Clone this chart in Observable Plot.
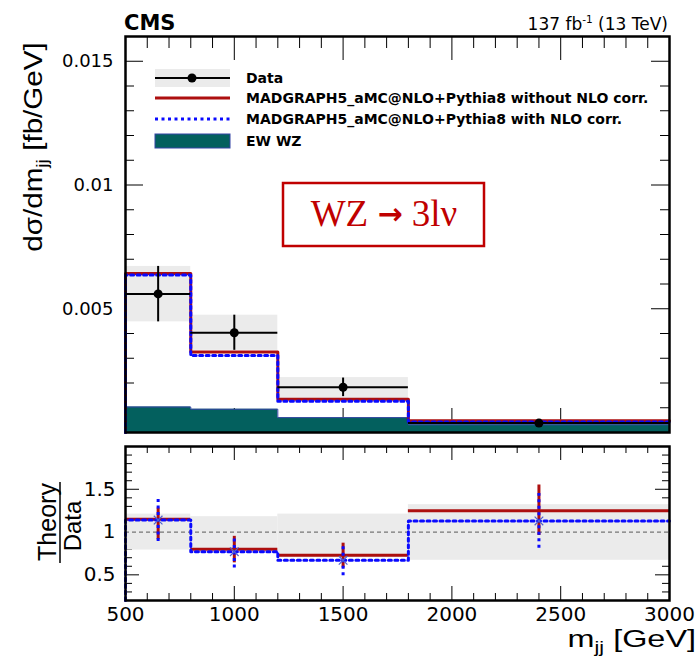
<!DOCTYPE html>
<html><head><meta charset="utf-8">
<script src="https://cdn.jsdelivr.net/npm/d3@7"></script>
<script src="https://cdn.jsdelivr.net/npm/@observablehq/plot@0.6"></script>
<style>
body{margin:0;background:#fff;}
#chart{position:relative;width:698px;height:663px;background:#fff;}
#chart svg{display:block;overflow:visible;}
</style></head><body><div id="chart"></div>
<script>
// ---------- data ----------
const binEdges = [500, 800, 1200, 1800, 3000];
const binCenters = [650, 1000, 1500, 2400];
const dataVal = [5.60e-3, 4.03e-3, 1.83e-3, 0.38e-3];
const dataLo  = [4.47e-3, 3.32e-3, 1.45e-3, 0.34e-3];
const dataHi  = [6.71e-3, 4.74e-3, 2.20e-3, 0.42e-3];
const bandLo  = [4.47e-3, 3.32e-3, 1.37e-3, 0.25e-3];
const bandHi  = [6.71e-3, 4.74e-3, 2.22e-3, 0.50e-3];
const noNLO   = [6.42e-3, 3.25e-3, 1.34e-3, 0.47e-3];
const withNLO = [6.36e-3, 3.11e-3, 1.26e-3, 0.42e-3];
const ewWZ    = [1.03e-3, 0.94e-3, 0.60e-3, 0.31e-3];

const ratioNoNLO     = [1.15, 0.80, 0.73, 1.25];
const ratioNoNLOLo   = [0.91, 0.64, 0.58, 0.96];
const ratioNoNLOHi   = [1.28, 0.95, 0.87, 1.55];
const ratioWithNLO   = [1.14, 0.77, 0.67, 1.13];
const ratioWithNLOLo = [0.89, 0.58, 0.49, 0.81];
const ratioWithNLOHi = [1.38, 0.95, 0.87, 1.45];
const ratioBandLo    = [0.79, 0.80, 0.70, 0.67];
const ratioBandHi    = [1.21, 1.18, 1.21, 1.32];

const xMajorTicks = [500, 1000, 1500, 2000, 2500, 3000];
const xTickLabels = ["500", "1000", "1500", "2000", "2500", "3000"];
const xMinorTicks = d3.range(600, 3000, 100).filter(v => v % 500 !== 0);
const yMajorTicks = [0.005, 0.01, 0.015];
const yTickLabels = ["0.005", "0.01", "0.015"];
const yMinorTicks = d3.range(1, 16).map(i => i / 1000).filter(v => !yMajorTicks.some(m => Math.abs(m - v) < 1e-9));
const rMajorTicks = [0.5, 1, 1.5];
const rTickLabels = ["0.5", "1", "1.5"];
const rMinorTicks = d3.range(3, 20).map(i => i / 10).filter(v => !rMajorTicks.some(m => Math.abs(m - v) < 1e-9));
const yDomain = [0, 0.016];
const rDomain = [0.2, 2.0];

// ---------- styles ----------
const RED = "#ad0f0f", BLUE = "#0a0aff", TEAL = "#03605e", BAND = "#ebebeb";
const DASH = "3,3.5";
const FONT = "DejaVu Sans, sans-serif";
const W = 698, ML = 125, MR = 29;
const PW = W - ML - MR;

const bins = binCenters.map((c, i) => ({
  x1: binEdges[i], x2: binEdges[i + 1], c,
  val: dataVal[i], lo: dataLo[i], hi: dataHi[i], bLo: bandLo[i], bHi: bandHi[i],
  rN: ratioNoNLO[i], rNLo: ratioNoNLOLo[i], rNHi: ratioNoNLOHi[i],
  rW: ratioWithNLO[i], rWLo: ratioWithNLOLo[i], rWHi: ratioWithNLOHi[i],
  rbLo: ratioBandLo[i], rbHi: ratioBandHi[i]
}));
const stepPts = (vals, base) => [{x: binEdges[0], y: base},
  ...vals.map((v, i) => ({x: binEdges[i], y: v})), {x: binEdges[binEdges.length - 1], y: vals[vals.length - 1]}];

function tickMarks(xMaj, xMin, yMaj, yMin, H, xl, xs, yl, ys) {
  const st = {stroke: "#000", strokeWidth: 1};
  return [
    Plot.tickX(xMaj, {x: d => d, insetTop: H - xl, ...st}),
    Plot.tickX(xMaj, {x: d => d, insetBottom: H - xl, ...st}),
    Plot.tickX(xMin, {x: d => d, insetTop: H - xs, ...st}),
    Plot.tickX(xMin, {x: d => d, insetBottom: H - xs, ...st}),
    Plot.tickY(yMaj, {y: d => d, insetRight: PW - yl, ...st}),
    Plot.tickY(yMaj, {y: d => d, insetLeft: PW - yl, ...st}),
    Plot.tickY(yMin, {y: d => d, insetRight: PW - ys, ...st}),
    Plot.tickY(yMin, {y: d => d, insetLeft: PW - ys, ...st})
  ];
}

// ---------- upper panel ----------
const H1 = 440, MT1 = 36, MB1 = 8;
const topPlot = Plot.plot({
  width: W, height: H1, marginTop: MT1, marginBottom: MB1, marginLeft: ML, marginRight: MR,
  x: {domain: [500, 3000], axis: null},
  y: {domain: yDomain, axis: null},
  style: {fontFamily: FONT, background: "white", overflow: "visible"},
  marks: [
    ...tickMarks(xMajorTicks, xMinorTicks, yMajorTicks, yMinorTicks, H1 - MT1 - MB1, 24, 12, 18, 9),
    Plot.rect(bins, {x1: "x1", x2: "x2", y1: "bLo", y2: "bHi", fill: BAND}),
    Plot.areaY(stepPts(ewWZ, 0), {x: "x", y: "y", curve: "step-after", fill: TEAL}),
    Plot.line(stepPts(ewWZ, 0), {x: "x", y: "y", curve: "step-after", stroke: "#3545a5", strokeWidth: 1}),
    Plot.line(stepPts(noNLO, 0), {x: "x", y: "y", curve: "step-after", stroke: RED, strokeWidth: 3}),
    Plot.line(stepPts(withNLO, 0), {x: "x", y: "y", curve: "step-after", stroke: BLUE, strokeWidth: 3, strokeDasharray: DASH}),
    Plot.ruleY(bins, {y: "val", x1: "x1", x2: "x2", stroke: "#000", strokeWidth: 2}),
    Plot.ruleX(bins, {x: "c", y1: "lo", y2: "hi", stroke: "#000", strokeWidth: 2}),
    Plot.dot(bins, {x: "c", y: "val", r: 4.5, fill: "#000", stroke: "none"}),
    Plot.frame({stroke: "#000", strokeWidth: 2.5}),
    Plot.text(yMajorTicks, {y: d => d, text: (d, i) => yTickLabels[i], frameAnchor: "left", textAnchor: "end", dx: -12, fontSize: 18, fill: "#000"})
  ]
});

// ---------- lower panel ----------
const H2 = 223, MT2 = 6, MB2 = 63;
const bottomPlot = Plot.plot({
  width: W, height: H2, marginTop: MT2, marginBottom: MB2, marginLeft: ML, marginRight: MR,
  x: {domain: [500, 3000], axis: null},
  y: {domain: rDomain, axis: null},
  style: {fontFamily: FONT, background: "white", overflow: "visible"},
  marks: [
    ...tickMarks(xMajorTicks, xMinorTicks, rMajorTicks, rMinorTicks, H2 - MT2 - MB2, 14, 7, 14, 7),
    Plot.rect(bins, {x1: "x1", x2: "x2", y1: "rbLo", y2: "rbHi", fill: BAND}),
    Plot.ruleY([1], {stroke: "#777", strokeWidth: 1.3, strokeDasharray: "4,3"}),
    Plot.ruleY(bins, {y: "rN", x1: "x1", x2: "x2", stroke: RED, strokeWidth: 3}),
    Plot.ruleX(bins, {x: "c", y1: "rNLo", y2: "rNHi", stroke: RED, strokeWidth: 3}),
    Plot.line(stepPts(ratioWithNLO, rDomain[0]), {x: "x", y: "y", curve: "step-after", stroke: BLUE, strokeWidth: 3, strokeDasharray: DASH}),
    Plot.ruleX(bins, {x: "c", y1: "rWLo", y2: "rWHi", stroke: BLUE, strokeWidth: 3, strokeDasharray: DASH}),
    Plot.dot(bins, {x: "c", y: "rW", r: 4, symbol: "times", stroke: "#5060d0", strokeWidth: 1.2}),
    Plot.frame({stroke: "#000", strokeWidth: 2.5}),
    Plot.text(rMajorTicks, {y: d => d, text: (d, i) => rTickLabels[i], frameAnchor: "left", textAnchor: "end", dx: -10, fontSize: 20, fill: "#000"}),
    Plot.text(xMajorTicks, {x: d => d, text: (d, i) => xTickLabels[i], frameAnchor: "bottom", lineAnchor: "top", dy: 6, fontSize: 20, fill: "#000"})
  ]
});

const chart = document.getElementById("chart");
chart.appendChild(topPlot);
chart.appendChild(bottomPlot);

// ---------- annotations (upper) ----------
const s1 = d3.select(topPlot);
const g1 = s1.append("g").attr("font-family", FONT).attr("fill", "#000").attr("text-anchor", "start");
g1.append("text").attr("x", 124).attr("y", 30).attr("text-anchor", "start").attr("font-size", 21).attr("font-weight", "bold").text("CMS");
const lumi = g1.append("text").attr("x", 668).attr("y", 30).attr("font-size", 17).attr("text-anchor", "end");
lumi.append("tspan").text("137 fb");
lumi.append("tspan").attr("dy", -7).attr("font-size", 10.5).text("-1");
lumi.append("tspan").attr("dy", 7).text(" (13 TeV)");

const yt = g1.append("text").attr("transform", "translate(42,147) rotate(-90) scale(1.14,1)").attr("text-anchor", "middle")
  .attr("font-family", "Liberation Sans, Arial, sans-serif").attr("font-size", 26);
yt.append("tspan").text("dσ/dm");
yt.append("tspan").attr("dy", 6).attr("font-size", 17).text("jj");
yt.append("tspan").attr("dy", -6).text(" [fb/GeV]");

// legend
const lg = g1.append("g");
lg.append("rect").attr("x", 155).attr("y", 69).attr("width", 75).attr("height", 18).attr("fill", BAND);
lg.append("line").attr("x1", 155).attr("x2", 230).attr("y1", 78).attr("y2", 78).attr("stroke", "#000").attr("stroke-width", 2);
lg.append("circle").attr("cx", 192).attr("cy", 78).attr("r", 4.5).attr("fill", "#000");
lg.append("line").attr("x1", 155).attr("x2", 230).attr("y1", 98).attr("y2", 98).attr("stroke", RED).attr("stroke-width", 3);
lg.append("line").attr("x1", 155).attr("x2", 230).attr("y1", 119).attr("y2", 119).attr("stroke", BLUE).attr("stroke-width", 3).attr("stroke-dasharray", DASH);
lg.append("rect").attr("x", 155).attr("y", 134).attr("width", 75).attr("height", 14).attr("fill", TEAL).attr("stroke", "#3545a5").attr("stroke-width", 1);
const legendLabels = ["Data", "MADGRAPH5_aMC@NLO+Pythia8 without NLO corr.", "MADGRAPH5_aMC@NLO+Pythia8 with NLO corr.", "EW WZ"];
const legendY = [78, 98, 119, 141];
legendLabels.forEach((t, i) => lg.append("text").attr("x", 246).attr("y", legendY[i] + 5)
  .attr("text-anchor", "start").attr("font-size", 14).attr("font-weight", "bold").text(t));

// WZ -> 3lv box
g1.append("rect").attr("x", 283).attr("y", 183).attr("width", 201).attr("height", 63)
  .attr("fill", "white").attr("stroke", "#c00000").attr("stroke-width", 2.5);
const wz = g1.append("text").attr("x", 384).attr("y", 226).attr("text-anchor", "middle")
  .attr("font-family", "Liberation Serif, Times New Roman, serif").attr("font-size", 37).attr("fill", "#c00000");
wz.append("tspan").text("WZ ");
wz.append("tspan").attr("font-family", "DejaVu Sans, sans-serif").attr("font-weight", "bold").attr("font-size", 30).attr("dy", -2).text("→");
wz.append("tspan").attr("dy", 2).text(" 3lν");

// ---------- annotations (lower) ----------
const s2 = d3.select(bottomPlot);
const g2 = s2.append("g").attr("fill", "#000").attr("font-family", "Liberation Sans, Arial, sans-serif");
g2.append("text").attr("transform", "translate(56,82) rotate(-90)").attr("text-anchor", "middle").attr("font-size", 25).text("Theory");
g2.append("line").attr("x1", 60).attr("x2", 60).attr("y1", 42).attr("y2", 123).attr("stroke", "#000").attr("stroke-width", 1.5);
g2.append("text").attr("transform", "translate(81,86) rotate(-90)").attr("text-anchor", "middle").attr("font-size", 24).text("Data");
const xt = g2.append("text").attr("transform", "translate(696,207) scale(1.35,1)").attr("text-anchor", "end").attr("font-size", 24);
xt.append("tspan").text("m");
xt.append("tspan").attr("dy", 6).attr("font-size", 16).text("jj");
xt.append("tspan").attr("dy", -6).text(" [GeV]");
</script>
</body></html>
